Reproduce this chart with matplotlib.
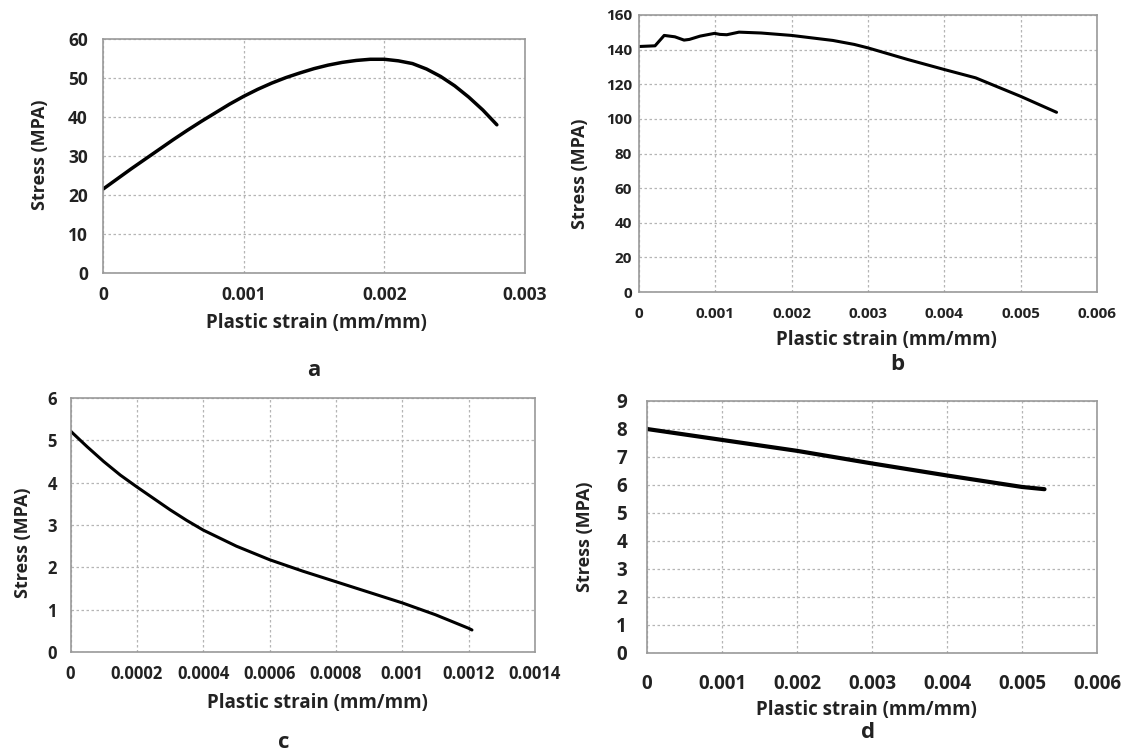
import matplotlib
matplotlib.use("Agg")
import matplotlib.pyplot as plt

plt.rcParams['font.family'] = ['Open Sans', 'DejaVu Sans']
plt.rcParams['font.weight'] = 'bold'

# panel a
xa = [0, 0.0001, 0.0002, 0.0003, 0.0004, 0.0005, 0.0006, 0.0007, 0.0008, 0.0009,
      0.001, 0.0011, 0.0012, 0.0013, 0.0014, 0.0015, 0.0016, 0.0017, 0.0018, 0.0019,
      0.002, 0.0021, 0.0022, 0.0023, 0.0024, 0.0025, 0.0026, 0.0027, 0.0028]
ya = [21.5, 24.1, 26.7, 29.2, 31.7, 34.2, 36.6, 38.9, 41.1, 43.3,
      45.3, 47.1, 48.7, 50.1, 51.3, 52.4, 53.3, 54.0, 54.5, 54.8,
      54.8, 54.4, 53.7, 52.3, 50.4, 48.0, 45.1, 41.8, 38.0]

# panel b
xb = [0, 0.00021, 0.00033, 0.00047, 0.00059, 0.00066, 0.0008, 0.00099, 0.00106,
      0.00115, 0.00131, 0.0016, 0.002, 0.00254, 0.00282, 0.003, 0.00352, 0.004,
      0.00441, 0.005, 0.00547]
yb = [141.8, 142.2, 148.2, 147.4, 145.5, 145.9, 147.8, 149.4, 148.8,
      148.6, 150.1, 149.6, 148.2, 145.3, 143.0, 141.0, 134.3, 128.5,
      123.7, 113.0, 103.8]

# panel c
xc = [0, 0.00005, 0.0001, 0.00015, 0.0002, 0.00025, 0.0003, 0.00035, 0.0004,
      0.0005, 0.0006, 0.0007, 0.0008, 0.0009, 0.001, 0.0011, 0.0012, 0.00121]
yc = [5.22, 4.85, 4.5, 4.18, 3.9, 3.63, 3.36, 3.11, 2.88,
      2.5, 2.18, 1.91, 1.66, 1.41, 1.16, 0.88, 0.56, 0.52]

# panel d
xd = [0, 0.001, 0.002, 0.003, 0.004, 0.005, 0.0053]
yd = [8.0, 7.61, 7.22, 6.77, 6.34, 5.93, 5.85]

W, H = 1122, 753
fig = plt.figure(figsize=(W / 100, H / 100), dpi=100)

xt6 = [0, 0.001, 0.002, 0.003, 0.004, 0.005, 0.006]
xt6l = ['0', '0.001', '0.002', '0.003', '0.004', '0.005', '0.006']

panels = [
    dict(x=xa, y=ya, box=(103, 39, 525, 273), xmax=0.003, xt=[0, 0.001, 0.002, 0.003],
         xtl=['0', '0.001', '0.002', '0.003'], ymax=60, ystep=10, tfs=12.5,
         xpad=9.4, ypad=10.8, xl=(316, 323), yl=(40, 155), letter='a', lpos=(314, 370), lw=2.5),
    dict(x=xb, y=yb, box=(639, 15, 1097, 292), xmax=0.006, xt=xt6, xtl=xt6l,
         ymax=160, ystep=20, tfs=11,
         xpad=10.7, ypad=5, xl=(886, 340), yl=(580, 174), letter='b', lpos=(897, 364), lw=2.2),
    dict(x=xc, y=yc, box=(70.5, 398, 535, 652), xmax=0.0014,
         xt=[0, 0.0002, 0.0004, 0.0006, 0.0008, 0.001, 0.0012, 0.0014],
         xtl=['0', '0.0002', '0.0004', '0.0006', '0.0008', '0.001', '0.0012', '0.0014'],
         ymax=6, ystep=1, tfs=12,
         xpad=9.1, ypad=9.7, xl=(317, 703), yl=(23, 543), letter='c', lpos=(284, 742), lw=2.2),
    dict(x=xd, y=yd, box=(647, 401, 1097, 653), xmax=0.006, xt=xt6, xtl=xt6l,
         ymax=9, ystep=1, tfs=13.5,
         xpad=14.8, ypad=14.4, xl=(866, 710), yl=(585, 537), letter='d', lpos=(868, 732), lw=3.0),
]

for p in panels:
    l, t, r, b = p['box']
    ax = fig.add_axes([l / W, 1 - b / H, (r - l) / W, (b - t) / H])
    ax.plot(p['x'], p['y'], color='black', lw=p['lw'], solid_capstyle='round')
    ax.set_xlim(0, p['xmax'])
    ax.set_ylim(0, p['ymax'])
    ax.set_xticks(p['xt'])
    ax.set_xticklabels(p['xtl'])
    ax.set_yticks(range(0, p['ymax'] + 1, p['ystep']))
    ax.tick_params(length=0, labelsize=p['tfs'])
    ax.tick_params(axis='x', pad=p['xpad'])
    ax.tick_params(axis='y', pad=p['ypad'])
    for lab in ax.get_xticklabels() + ax.get_yticklabels():
        lab.set_fontweight('bold')
        lab.set_color('#222222')
    ax.grid(True, color='#b5b5b5', linestyle=(0, (2, 2)), lw=0.9)
    for s in ax.spines.values():
        s.set_color('#999999')
        s.set_linewidth(1.2)

    xlab = ax.set_xlabel('Plastic strain (mm/mm)', fontsize=13.5, fontweight='bold', color='#222222')
    ylab = ax.set_ylabel('Stress (MPA)', fontsize=13, fontweight='bold', color='#222222')
    ax.xaxis.set_label_coords((p['xl'][0] - l) / (r - l), (b - p['xl'][1]) / (b - t))
    ax.yaxis.set_label_coords((p['yl'][0] - l) / (r - l), (b - p['yl'][1]) / (b - t))
    xlab.set_va('center')
    ylab.set_va('center')
    ylab.set_ha('center')

    fig.text(p['lpos'][0] / W, 1 - p['lpos'][1] / H, p['letter'], fontsize=16,
             fontweight='bold', ha='center', va='center', color='#222222')

fig.savefig('out.png', dpi=100)
